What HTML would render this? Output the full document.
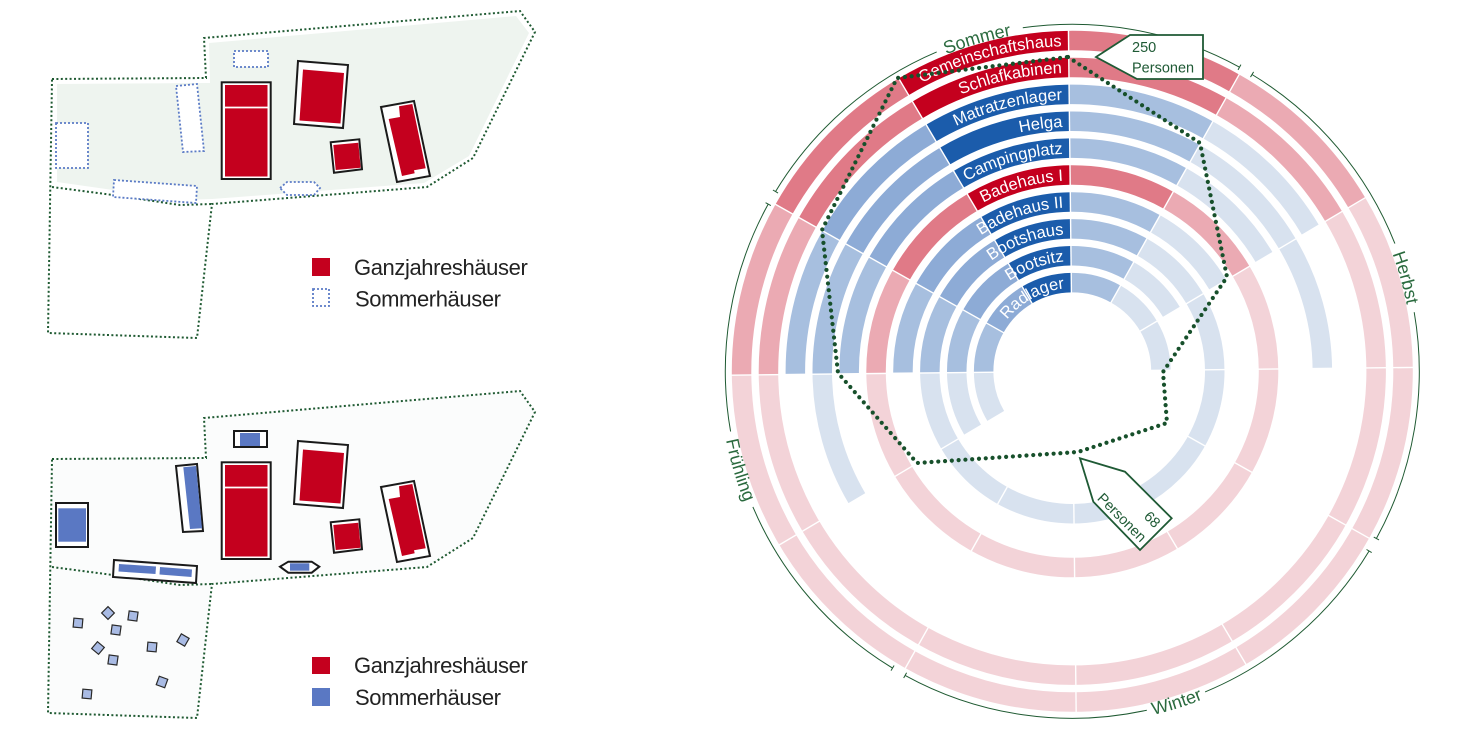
<!DOCTYPE html>
<html><head><meta charset="utf-8">
<style>
html,body{margin:0;padding:0;background:#fff;width:1459px;height:737px;overflow:hidden;}
svg{display:block;position:absolute;left:0;top:0;}
text{font-family:"Liberation Sans",Arial,sans-serif;}
.r0{stroke:#c4001e}.r1{stroke:#e07a87}.r2{stroke:#ebaab3}.r3{stroke:#f3d3d8}
.b0{stroke:#1b5cab}.b1{stroke:#8dabd6}.b2{stroke:#a7bfdf}.b3{stroke:#d8e2ef}
</style></head><body>
<svg width="1459" height="737" viewBox="0 0 1459 737" xmlns="http://www.w3.org/2000/svg" overflow="hidden">
<rect width="1459" height="737" fill="#fff"/>

<!-- ===== TOP MAP ===== -->
<polygon points="57,84 210,83 209,43 516,16 529,33 469,156 424,183 212,199 180,200 113,190 57,182" fill="#eef4ef"/>
<g fill="none" stroke="#1f5a32" stroke-width="2" stroke-dasharray="2 2.4">
  <path d="M52,79 L206,78 L204,38 L520,11 L535,32 L473,158 L427,187 L212,204 L197,338 L48,333 Z"/>
  <path d="M52,187 L113,195 L180,205 L212,204"/>
</g>
<g fill="#fff" stroke="#5b7bc6" stroke-width="1.8" stroke-dasharray="2 2">
  <rect x="234" y="51" width="34" height="16"/>
  <polygon points="176,86 197,84 204,151 183,152"/>
  <rect x="56" y="123" width="32" height="45"/>
  <polygon points="114,180 197,186 196,203 113,197"/>
  <polygon points="280,188 287,182 314,182 320,188 314,195 287,195"/>
</g>
<g id="bld">
  <rect x="221.7" y="82.3" width="49" height="96.7" fill="#fff" stroke="#1a1a1a" stroke-width="2"/>
  <rect x="225" y="85" width="42.5" height="91.5" fill="#c4001e"/>
  <line x1="225" y1="107.5" x2="267.5" y2="107.5" stroke="#fff" stroke-width="1.8"/>
  <polygon points="298,61 348,65 343,128 294,124" fill="#fff" stroke="#1a1a1a" stroke-width="2"/>
  <polygon points="303,69.5 344,73 340.5,123.5 299.5,120.5" fill="#c4001e"/>
  <polygon points="330.7,142.3 359.3,139.3 362,169.3 334,172.7" fill="#fff" stroke="#1a1a1a" stroke-width="2"/>
  <polygon points="333.3,145 358.3,142.7 360.7,167.7 335.7,170" fill="#c4001e"/>
  <polygon points="381,107 414,101 430,176 397,182" fill="#fff" stroke="#1a1a1a" stroke-width="2"/>
  <polygon points="388.7,119 400,117 399,106.3 412.3,104 425.7,168.3 414,170.3 414.7,173.3 402,176" fill="#c4001e"/>
</g>
<rect x="312" y="258" width="18" height="18" fill="#c4001e"/>
<rect x="313" y="289" width="16" height="17" fill="#fff" stroke="#5b7bc6" stroke-width="1.8" stroke-dasharray="2 2"/>
<text x="354" y="275" font-size="22" fill="#222" letter-spacing="-0.4">Ganzjahreshäuser</text>
<text x="355" y="306.5" font-size="22" fill="#222" letter-spacing="-0.4">Sommerhäuser</text>

<!-- ===== BOTTOM MAP ===== -->
<polygon points="52,459 206,458 204,418 520,391 535,412 473,538 427,567 212,584 197,718 48,713" fill="#fbfcfc"/>
<g fill="none" stroke="#1f5a32" stroke-width="2" stroke-dasharray="2 2.4">
  <path d="M52,459 L206,458 L204,418 L520,391 L535,412 L473,538 L427,567 L212,584 L197,718 L48,713 Z"/>
  <path d="M52,567 L113,575 L180,585 L212,584"/>
</g>
<use href="#bld" transform="translate(0,380)"/>
<g stroke="#1a1a1a" stroke-width="2" fill="#fff">
  <rect x="234" y="431" width="33" height="16"/>
  <polygon points="176,466 197,464 203,531 183,532"/>
  <rect x="56" y="503" width="32" height="44"/>
  <polygon points="114,560 197,566 196,583 113,577"/>
  <polygon points="280,566.7 288.3,561.7 311.7,561.7 319.3,566.7 311.7,572.7 288.3,572.7"/>
</g>
<g fill="#5a78c3">
  <rect x="240" y="433" width="20" height="13"/>
  <polygon points="183.3,467.3 196,466 202,528.3 190,529"/>
  <rect x="58.3" y="508.3" width="27.7" height="33.4"/>
  <polygon points="119,564 156,566.5 155.5,574 118.5,571.5"/>
  <polygon points="160,567 192,569.5 191.5,577 159.5,574.5"/>
  <rect x="290" y="563.3" width="19.3" height="7.4"/>
</g>
<g fill="#a9bbe4" stroke="#2a2a2a" stroke-width="1.2">
  <rect x="73.5" y="618.5" width="9" height="9" transform="rotate(5 78 623)"/>
  <rect x="103.5" y="608.5" width="9" height="9" transform="rotate(45 108 613)"/>
  <rect x="128.5" y="611.5" width="9" height="9" transform="rotate(8 133 616)"/>
  <rect x="111.5" y="625.5" width="9" height="9" transform="rotate(8 116 630)"/>
  <rect x="93.5" y="643.5" width="9" height="9" transform="rotate(40 98 648)"/>
  <rect x="108.5" y="655.5" width="9" height="9" transform="rotate(8 113 660)"/>
  <rect x="147.5" y="642.5" width="9" height="9" transform="rotate(5 152 647)"/>
  <rect x="178.5" y="635.5" width="9" height="9" transform="rotate(30 183 640)"/>
  <rect x="157.5" y="677.5" width="9" height="9" transform="rotate(20 162 682)"/>
  <rect x="82.5" y="689.5" width="9" height="9" transform="rotate(5 87 694)"/>
</g>
<rect x="312" y="657" width="18" height="17" fill="#c4001e"/>
<rect x="312" y="688" width="18" height="18" fill="#5a78c3"/>
<text x="354" y="673" font-size="22" fill="#222" letter-spacing="-0.4">Ganzjahreshäuser</text>
<text x="355" y="705" font-size="22" fill="#222" letter-spacing="-0.4">Sommerhäuser</text>

<!-- ===== RADIAL CHART ===== -->
<g transform="translate(1072.3 371.3)">
  <g fill="none" stroke-width="19.5">
    <!-- ring0 Gemeinschaftshaus -->
    <circle r="330.75" class="r3" stroke-dasharray="1035.34 865.91 176.93 9999"/>
    <circle r="330.75" class="r2" stroke-dasharray="0 1728.06 173.18 9999"/>
    <circle r="330.75" class="r2" stroke-dasharray="0 1035.34 173.18 9999"/>
    <circle r="330.75" class="r1" stroke-dasharray="0 1554.88 173.18 9999"/>
    <circle r="330.75" class="r1" stroke-dasharray="0 1208.52 173.18 9999"/>
    <circle r="330.75" class="r0" stroke-dasharray="0 1381.70 173.18 9999"/>
    <!-- ring1 Schlafkabinen -->
    <circle r="303.85" class="r3" stroke-dasharray="951.13 795.48 162.54 9999"/>
    <circle r="303.85" class="r2" stroke-dasharray="0 1587.51 159.10 9999"/>
    <circle r="303.85" class="r2" stroke-dasharray="0 951.13 159.10 9999"/>
    <circle r="303.85" class="r1" stroke-dasharray="0 1428.42 159.10 9999"/>
    <circle r="303.85" class="r1" stroke-dasharray="0 1110.22 159.10 9999"/>
    <circle r="303.85" class="r0" stroke-dasharray="0 1269.32 159.10 9999"/>
    <!-- ring2 Matratzenlager -->
    <circle r="276.95" class="b2" stroke-dasharray="0 1301.96 145.01 9999"/>
    <circle r="276.95" class="b3" stroke-dasharray="0 1446.97 145.01 9999"/>
    <circle r="276.95" class="b2" stroke-dasharray="0 866.92 145.01 9999"/>
    <circle r="276.95" class="b1" stroke-dasharray="0 1011.94 145.01 9999"/>
    <circle r="276.95" class="b0" stroke-dasharray="0 1156.94 145.01 9999"/>
    <!-- ring3 Helga -->
    <circle r="250.05" class="b2" stroke-dasharray="0 1175.50 130.93 9999"/>
    <circle r="250.05" class="b3" stroke-dasharray="0 1306.42 261.85 9999"/>
    <circle r="250.05" class="b3" stroke-dasharray="0 651.79 130.93 9999"/>
    <circle r="250.05" class="b2" stroke-dasharray="0 782.72 130.93 9999"/>
    <circle r="250.05" class="b1" stroke-dasharray="0 913.65 130.93 9999"/>
    <circle r="250.05" class="b0" stroke-dasharray="0 1044.57 130.93 9999"/>
    <!-- ring4 Campingplatz -->
    <circle r="223.15" class="b2" stroke-dasharray="0 1049.04 116.84 9999"/>
    <circle r="223.15" class="b3" stroke-dasharray="0 1165.88 116.84 9999"/>
    <circle r="223.15" class="b2" stroke-dasharray="0 698.51 116.84 9999"/>
    <circle r="223.15" class="b1" stroke-dasharray="0 815.35 116.84 9999"/>
    <circle r="223.15" class="b0" stroke-dasharray="0 932.20 116.84 9999"/>
    <!-- ring5 Badehaus I -->
    <circle r="196.25" class="r3" stroke-dasharray="614.31 513.78 104.98 9999"/>
    <circle r="196.25" class="r2" stroke-dasharray="0 1025.33 102.76 9999"/>
    <circle r="196.25" class="r2" stroke-dasharray="0 614.31 102.76 9999"/>
    <circle r="196.25" class="r1" stroke-dasharray="0 922.58 102.76 9999"/>
    <circle r="196.25" class="r1" stroke-dasharray="0 717.07 102.76 9999"/>
    <circle r="196.25" class="r0" stroke-dasharray="0 819.82 102.76 9999"/>
    <!-- ring6 Badehaus II -->
    <circle r="169.35" class="b2" stroke-dasharray="0 796.12 88.67 9999"/>
    <circle r="169.35" class="b3" stroke-dasharray="0 884.79 88.67 9999"/>
    <circle r="169.35" class="b2" stroke-dasharray="0 530.10 88.67 9999"/>
    <circle r="169.35" class="b1" stroke-dasharray="0 618.78 88.67 9999"/>
    <circle r="169.35" class="b0" stroke-dasharray="0 707.45 88.67 9999"/>
    <!-- ring7 Bootshaus -->
    <circle r="142.45" class="b2" stroke-dasharray="0 669.66 74.59 9999"/>
    <circle r="142.45" class="b3" stroke-dasharray="445.90 298.34 150.79 9999"/>
    <circle r="142.45" class="b2" stroke-dasharray="0 445.90 74.59 9999"/>
    <circle r="142.45" class="b1" stroke-dasharray="0 520.49 74.59 9999"/>
    <circle r="142.45" class="b0" stroke-dasharray="0 595.07 74.59 9999"/>
    <!-- ring8 Bootsitz -->
    <circle r="115.55" class="b2" stroke-dasharray="0 543.20 60.50 9999"/>
    <circle r="115.55" class="b3" stroke-dasharray="0 603.70 60.50 9999"/>
    <circle r="115.55" class="b3" stroke-dasharray="0 301.20 60.50 9999"/>
    <circle r="115.55" class="b2" stroke-dasharray="0 361.70 60.50 9999"/>
    <circle r="115.55" class="b1" stroke-dasharray="0 422.20 60.50 9999"/>
    <circle r="115.55" class="b0" stroke-dasharray="0 482.70 60.50 9999"/>
    <!-- ring9 Radlager -->
    <circle r="88.65" class="b2" stroke-dasharray="0 416.74 46.42 9999"/>
    <circle r="88.65" class="b3" stroke-dasharray="0 463.15 92.83 9999"/>
    <circle r="88.65" class="b3" stroke-dasharray="0 231.07 46.42 9999"/>
    <circle r="88.65" class="b2" stroke-dasharray="0 277.49 46.42 9999"/>
    <circle r="88.65" class="b1" stroke-dasharray="0 323.91 46.42 9999"/>
    <circle r="88.65" class="b0" stroke-dasharray="0 370.32 46.42 9999"/>
  </g>
  <g stroke="#fff" stroke-width="1.4">
    <line x1="0" y1="-76" x2="0" y2="-342" transform="rotate(-0.65)"/>
    <line x1="0" y1="-76" x2="0" y2="-342" transform="rotate(29.35)"/>
    <line x1="0" y1="-76" x2="0" y2="-342" transform="rotate(59.35)"/>
    <line x1="0" y1="-76" x2="0" y2="-342" transform="rotate(89.35)"/>
    <line x1="0" y1="-76" x2="0" y2="-342" transform="rotate(119.35)"/>
    <line x1="0" y1="-76" x2="0" y2="-342" transform="rotate(149.35)"/>
    <line x1="0" y1="-76" x2="0" y2="-342" transform="rotate(179.35)"/>
    <line x1="0" y1="-76" x2="0" y2="-342" transform="rotate(209.35)"/>
    <line x1="0" y1="-76" x2="0" y2="-342" transform="rotate(239.35)"/>
    <line x1="0" y1="-76" x2="0" y2="-342" transform="rotate(269.35)"/>
    <line x1="0" y1="-76" x2="0" y2="-342" transform="rotate(299.35)"/>
    <line x1="0" y1="-76" x2="0" y2="-342" transform="rotate(329.35)"/>
  </g>
  <defs>
    <path id="p0" d="M-305.64,111.24 A325.25,325.25 0 0 1 -10.69,-325.07"/>
    <path id="p1" d="M-280.36,102.04 A298.35,298.35 0 0 1 -10.38,-298.17"/>
    <path id="p2" d="M-255.08,92.84 A271.45,271.45 0 0 1 -10.08,-271.26"/>
    <path id="p3" d="M-229.81,83.64 A244.55,244.55 0 0 1 -9.77,-244.35"/>
    <path id="p4" d="M-204.53,74.44 A217.65,217.65 0 0 1 -9.47,-217.44"/>
    <path id="p5" d="M-179.25,65.24 A190.75,190.75 0 0 1 -9.16,-190.53"/>
    <path id="p6" d="M-153.97,56.04 A163.85,163.85 0 0 1 -8.85,-163.61"/>
    <path id="p7" d="M-128.69,46.84 A136.95,136.95 0 0 1 -8.55,-136.68"/>
    <path id="p8" d="M-103.42,37.64 A110.05,110.05 0 0 1 -8.24,-109.74"/>
    <path id="p9" d="M-78.14,28.44 A83.15,83.15 0 0 1 -7.93,-82.77"/>
    <path id="sS" d="M-245.3,-236.9 A341,341 0 0 1 82.5,-330.9"/>
    <path id="sH" d="M238.2,-244.1 A341,341 0 0 1 330.4,84.2"/>
    <path id="sW" d="M-76.4,344.6 A353,353 0 0 0 260.3,238.5"/>
    <path id="sF" d="M-343.3,-82.4 A353,353 0 0 0 -243.0,256.1"/>
  </defs>
  <g font-size="16.5" fill="#fff" text-anchor="end">
    <text><textPath href="#p0" startOffset="100%">Gemeinschaftshaus</textPath></text>
    <text><textPath href="#p1" startOffset="100%">Schlafkabinen</textPath></text>
    <text><textPath href="#p2" startOffset="100%">Matratzenlager</textPath></text>
    <text><textPath href="#p3" startOffset="100%">Helga</textPath></text>
    <text><textPath href="#p4" startOffset="100%">Campingplatz</textPath></text>
    <text><textPath href="#p5" startOffset="100%">Badehaus I</textPath></text>
    <text><textPath href="#p6" startOffset="100%">Badehaus II</textPath></text>
    <text><textPath href="#p7" startOffset="100%">Bootshaus</textPath></text>
    <text><textPath href="#p8" startOffset="100%">Bootsitz</textPath></text>
    <text><textPath href="#p9" startOffset="100%">Radlager</textPath></text>
  </g>
  <g fill="none" stroke="#1f5a32" stroke-width="1">
    <path d="M-296.8,-179.7 A347,347 0 0 1 -135.6,-319.4"/>
    <path d="M-49.5,-343.5 A347,347 0 0 1 167.2,-304.1"/>
    <path d="M179.7,-296.8 A347,347 0 0 1 322.6,-127.7"/>
    <path d="M341.9,-59.1 A347,347 0 0 1 304.1,167.2"/>
    <path d="M296.8,179.7 A347,347 0 0 1 132.8,320.6"/>
    <path d="M74.5,338.9 A347,347 0 0 1 -167.2,304.1"/>
    <path d="M-179.7,296.8 A347,347 0 0 1 -319.4,135.6"/>
    <path d="M-341.7,60.2 A347,347 0 0 1 -304.1,-167.2"/>
    <line x1="0" y1="-344" x2="0" y2="-350" transform="rotate(28.8)"/>
    <line x1="0" y1="-344" x2="0" y2="-350" transform="rotate(31.2)"/>
    <line x1="0" y1="-344" x2="0" y2="-350" transform="rotate(118.8)"/>
    <line x1="0" y1="-344" x2="0" y2="-350" transform="rotate(121.2)"/>
    <line x1="0" y1="-344" x2="0" y2="-350" transform="rotate(208.8)"/>
    <line x1="0" y1="-344" x2="0" y2="-350" transform="rotate(211.2)"/>
    <line x1="0" y1="-344" x2="0" y2="-350" transform="rotate(298.8)"/>
    <line x1="0" y1="-344" x2="0" y2="-350" transform="rotate(301.2)"/>
  </g>
  <g font-size="18" fill="#2a6a3e" text-anchor="middle">
    <text><textPath href="#sS" startOffset="50%">Sommer</textPath></text>
    <text><textPath href="#sH" startOffset="50%">Herbst</textPath></text>
    <text><textPath href="#sW" startOffset="50%">Winter</textPath></text>
    <text><textPath href="#sF" startOffset="50%">Frühling</textPath></text>
  </g>
</g>

<polygon points="1068,57 1200,143 1227,277 1163,372 1167,423 1078,452 917,463 838,373 822,230 897,78" fill="none" stroke="#17502b" stroke-width="4.2" stroke-linecap="round" stroke-dasharray="0 6.8"/>

<polygon points="1096,57 1130,35 1203,35 1203,79 1137,79" fill="#fff" stroke="#1f5a35" stroke-width="1.8"/>
<text x="1132" y="52" font-size="14.5" fill="#1f5a35">250</text>
<text x="1132" y="72.5" font-size="14.5" fill="#1f5a35">Personen</text>

<polygon points="1080,458.3 1125,471.7 1171.7,518.3 1140,550 1093.3,501.7" fill="#fff" stroke="#1f5a35" stroke-width="1.8"/>
<g transform="translate(1096.5 499) rotate(45)" font-size="14.5" fill="#1f5a35">
  <text x="0" y="0">Personen</text>
  <text x="62" y="-20" text-anchor="end">68</text>
</g>
</svg>
</body></html>
